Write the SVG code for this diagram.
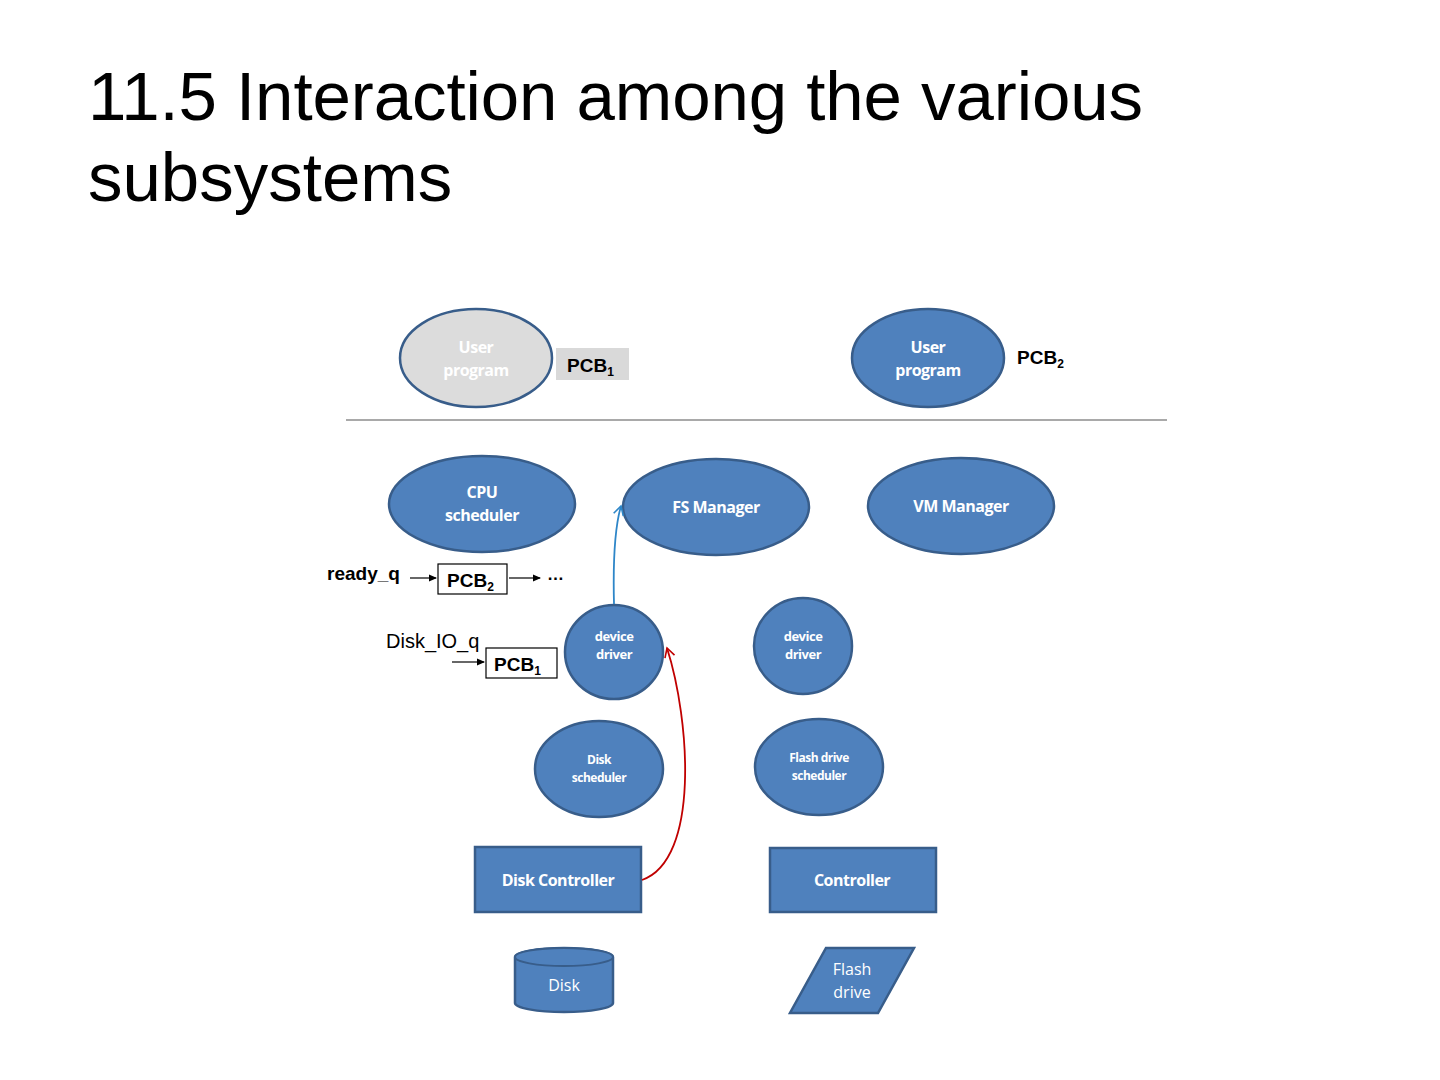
<svg xmlns="http://www.w3.org/2000/svg" width="1440" height="1080" viewBox="0 0 1440 1080">
<defs>
<style>
.title{font-family:"Liberation Sans",Arial,sans-serif;font-size:69px;fill:#000}
.node{fill:#4f81bd;stroke:#385d8a;stroke-width:2.5}
.nt{font-family:"Open Sans","Liberation Sans",sans-serif;font-weight:bold;fill:#fff;text-anchor:middle;letter-spacing:-0.5px}
.lbl{font-family:"Liberation Sans",Arial,sans-serif;font-weight:bold;fill:#000}
.box{fill:#fff;stroke:#000;stroke-width:1.2}
</style>
<marker id="ah" markerWidth="8" markerHeight="8" refX="7" refY="4" orient="auto" markerUnits="userSpaceOnUse"><path d="M0,0.5 L8,4 L0,7.5 z" fill="#000"/></marker>
<marker id="blueHead" markerWidth="12" markerHeight="12" refX="10" refY="6" orient="auto" markerUnits="userSpaceOnUse"><path d="M1,1 L10,6 L1,11" fill="none" stroke="#2e86c8" stroke-width="1.6"/></marker>
<marker id="redHead" markerWidth="12" markerHeight="12" refX="10" refY="6" orient="auto" markerUnits="userSpaceOnUse"><path d="M1,1 L10,6 L1,11" fill="none" stroke="#c00000" stroke-width="1.6"/></marker>
</defs>
<rect width="1440" height="1080" fill="#fff"/>
<text class="title" x="88" y="120" textLength="1055" lengthAdjust="spacing">11.5 Interaction among the various</text>
<text class="title" x="88" y="201">subsystems</text>

<line x1="346" y1="420" x2="1167" y2="420" stroke="#555" stroke-width="1.2"/>

<g id="user1">
<ellipse cx="476" cy="358" rx="76" ry="49" fill="#dcdcdc" stroke="#385d8a" stroke-width="2.5"/>
<text class="nt" x="476" y="353" font-size="16">User</text>
<text class="nt" x="476" y="376" font-size="16">program</text>
</g>
<g id="pcb1top">
<rect x="556" y="348" width="73" height="32" fill="#d9d9d9"/>
<text class="lbl" x="567" y="372" font-size="19">PCB<tspan font-size="12" dy="4">1</tspan></text>
</g>
<g id="user2">
<ellipse class="node" cx="928" cy="358" rx="76" ry="49"/>
<text class="nt" x="928" y="353" font-size="16">User</text>
<text class="nt" x="928" y="376" font-size="16">program</text>
</g>
<g id="pcb2top">
<text class="lbl" x="1017" y="364" font-size="19">PCB<tspan font-size="12" dy="4">2</tspan></text>
</g>

<g id="cpu">
<ellipse class="node" cx="482" cy="504" rx="93" ry="48"/>
<text class="nt" x="482" y="498" font-size="16">CPU</text>
<text class="nt" x="482" y="521" font-size="16">scheduler</text>
</g>
<g id="fs">
<ellipse class="node" cx="716" cy="507" rx="93" ry="48"/>
<text class="nt" x="716" y="513" font-size="16">FS Manager</text>
</g>
<g id="vm">
<ellipse class="node" cx="961" cy="506" rx="93" ry="48"/>
<text class="nt" x="961" y="512" font-size="16">VM Manager</text>
</g>

<g id="readyq">
<text class="lbl" x="327" y="580" font-size="19">ready_q</text>
<rect class="box" x="438" y="564" width="69" height="30"/>
<text class="lbl" x="447" y="587" font-size="19">PCB<tspan font-size="12" dy="4">2</tspan></text>
<text class="lbl" x="547" y="580" font-size="17">…</text>
</g>
<g id="diskioq">
<text font-family="Liberation Sans,Arial,sans-serif" font-size="20" x="386" y="648" fill="#000">Disk_IO_q</text>
<rect class="box" x="486" y="648" width="71" height="30"/>
<text class="lbl" x="494" y="671" font-size="19">PCB<tspan font-size="12" dy="4">1</tspan></text>
</g>

<g id="dd1">
<ellipse class="node" cx="614" cy="652" rx="49" ry="47"/>
<text class="nt" x="614" y="641" font-size="13">device</text>
<text class="nt" x="614" y="659" font-size="13">driver</text>
</g>
<g id="dd2">
<ellipse class="node" cx="803" cy="646" rx="49" ry="48"/>
<text class="nt" x="803" y="641" font-size="13">device</text>
<text class="nt" x="803" y="659" font-size="13">driver</text>
</g>
<g id="disksched">
<ellipse class="node" cx="599" cy="769" rx="64" ry="48"/>
<text class="nt" x="599" y="764" font-size="12">Disk</text>
<text class="nt" x="599" y="782" font-size="12">scheduler</text>
</g>
<g id="flashsched">
<ellipse class="node" cx="819" cy="767" rx="64" ry="48"/>
<text class="nt" x="819" y="762" font-size="12">Flash drive</text>
<text class="nt" x="819" y="780" font-size="12">scheduler</text>
</g>
<g id="diskctl">
<rect class="node" x="475" y="847" width="166" height="65"/>
<text class="nt" x="558" y="886" font-size="16">Disk Controller</text>
</g>
<g id="ctl">
<rect class="node" x="770" y="848" width="166" height="64"/>
<text class="nt" x="852" y="886" font-size="16">Controller</text>
</g>
<g id="disk">
<path class="node" d="M515,957 L515,1003 A49,9 0 0 0 613,1003 L613,957 A49,9 0 0 0 515,957 Z"/>
<ellipse cx="564" cy="957" rx="49" ry="9" fill="#4f81bd" stroke="#385d8a" stroke-width="2"/>
<text font-family="Open Sans,Liberation Sans,sans-serif" font-size="16" fill="#fff" text-anchor="middle" x="564" y="991">Disk</text>
</g>
<g id="flash">
<polygon class="node" points="826,948 914,948 878,1013 790,1013"/>
<text font-family="Open Sans,Liberation Sans,sans-serif" font-size="16" fill="#fff" text-anchor="middle" x="852" y="975">Flash</text>
<text font-family="Open Sans,Liberation Sans,sans-serif" font-size="16" fill="#fff" text-anchor="middle" x="852" y="998">drive</text>
</g>

<g id="connectors">
<line x1="410" y1="578" x2="436" y2="578" stroke="#000" stroke-width="1.2" marker-end="url(#ah)"/>
<line x1="509" y1="578" x2="540" y2="578" stroke="#000" stroke-width="1.2" marker-end="url(#ah)"/>
<line x1="452" y1="662" x2="484" y2="662" stroke="#000" stroke-width="1.2" marker-end="url(#ah)"/>
<path d="M614,604 C613,565 614,530 621,506" fill="none" stroke="#2e86c8" stroke-width="1.8" marker-end="url(#blueHead)"/>
<path d="M642,880 C700,860 690,720 667,648" fill="none" stroke="#c00000" stroke-width="1.8" marker-end="url(#redHead)"/>
</g>
</svg>
